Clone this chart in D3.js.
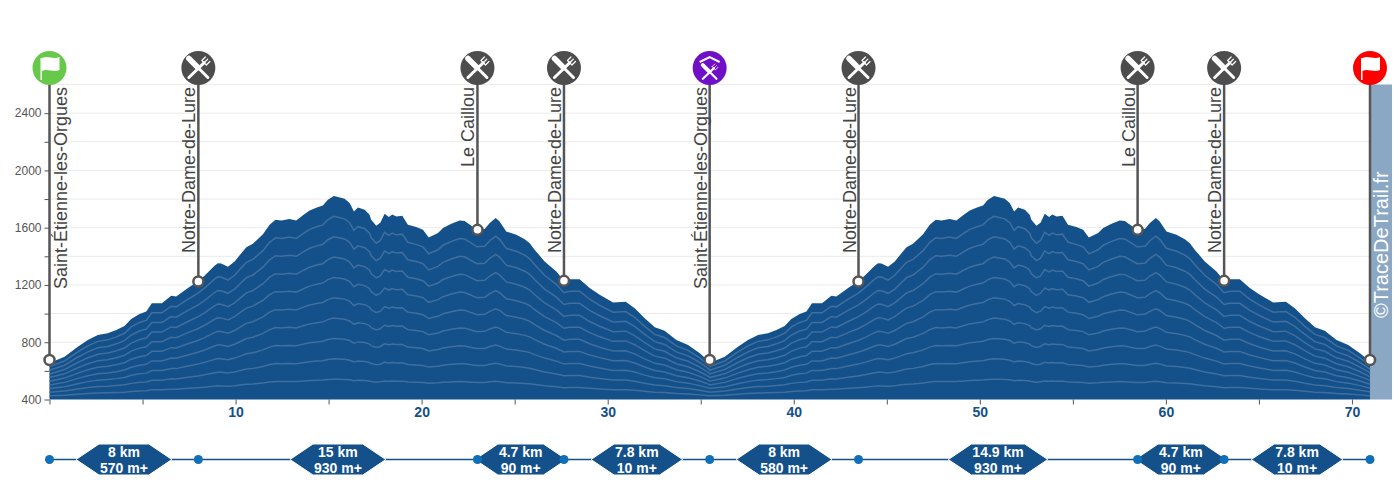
<!DOCTYPE html>
<html lang="fr">
<head>
    <meta charset="UTF-8">
    <title>Profil altimétrique</title>
    <script src="https://d3js.org/d3.v7.min.js"></script>
    <style>
        body { margin: 0; background: #fff; font-family: "Liberation Sans", Arial, sans-serif; }
        svg { display: block; }
        .grid line { stroke: #ebebeb; stroke-width: 1; }
        .y-axis text { font-size: 12px; fill: #555; }
        .y-axis line, .x-axis line { stroke: #555; }
        .x-axis text { font-size: 14px; font-weight: bold; fill: #14508a; }
        .y-axis path, .x-axis path { display: none; }
        .band { fill: none; stroke: #3f6f9f; stroke-width: 1.5; }
        .pole { stroke: #555; stroke-width: 2.5; }
        .stop-dot { fill: #fff; stroke: #555; stroke-width: 2.5; }
        .stop-name { font-size: 18px; fill: #444; }
        .seg-text { font-size: 14px; font-weight: bold; fill: #fff; text-anchor: middle; }
    </style>
</head>
<body>
    <svg id="chart" width="1400" height="500"></svg>

    <script>
        // distance (km) and elevation (m)
        const profileKm = [
            0, 0.81, 1.52, 2.06, 2.60, 3.13, 3.59, 4.03, 4.39, 4.84, 5.20, 5.50, 6.04, 6.54, 6.81, 7.44, 7.97, 8.33, 8.87, 9.05,
            9.23, 9.59, 9.95, 10.31, 10.58, 10.93, 11.47, 11.83, 12.15, 12.46, 12.90, 13.26, 13.71, 13.98, 14.37, 14.69, 14.96, 15.28, 15.50, 15.86,
            16.13, 16.36, 16.58, 16.94, 17.20, 17.29, 17.56, 17.78, 18.01, 18.24, 18.42, 18.64, 18.96, 19.26, 19.71, 20.07, 20.38, 20.88, 21.15, 21.60,
            22.04, 22.31, 22.67, 22.97, 23.39, 23.66, 23.98, 24.19, 24.55, 25.09, 25.54, 25.81, 26.08, 26.61, 27.24, 27.65, 27.96, 28.49, 29.03, 29.57,
            30.29, 30.97, 31.45, 31.99, 32.53, 33.06, 33.69, 34.32, 34.95, 35.45,
            35.48, 36.29, 37.00, 37.54, 38.08, 38.61, 39.07, 39.51, 39.87, 40.32, 40.68, 40.98, 41.52, 42.02, 42.29, 42.92, 43.45, 43.81, 44.35, 44.53,
            44.71, 45.07, 45.43, 45.79, 46.06, 46.41, 46.95, 47.31, 47.63, 47.94, 48.38, 48.74, 49.19, 49.46, 49.85, 50.17, 50.44, 50.76, 50.98, 51.34,
            51.61, 51.84, 52.06, 52.42, 52.68, 52.77, 53.04, 53.26, 53.49, 53.72, 53.90, 54.12, 54.44, 54.74, 55.19, 55.55, 55.86, 56.36, 56.63, 57.08,
            57.52, 57.79, 58.15, 58.45, 58.87, 59.14, 59.46, 59.67, 60.03, 60.57, 61.02, 61.29, 61.56, 62.09, 62.72, 63.13, 63.44, 63.97, 64.51, 65.05,
            65.77, 66.45, 66.93, 67.47, 68.01, 68.54, 69.17, 69.80, 70.43, 70.93, 70.97
        ];
        const profileEle = [
            655, 699, 769, 816, 851, 863, 886, 914, 963, 998, 1014, 1073, 1073, 1124, 1119, 1178, 1224, 1264, 1334, 1352,
            1350, 1327, 1364, 1422, 1464, 1487, 1555, 1620, 1655, 1650, 1660, 1650, 1695, 1720, 1741, 1755, 1795, 1821, 1814, 1802,
            1772, 1713, 1741, 1725, 1690, 1655, 1613, 1634, 1697, 1674, 1692, 1678, 1683, 1620, 1604, 1585, 1531, 1562, 1597, 1627,
            1650, 1646, 1613, 1585, 1590, 1632, 1667, 1643, 1573, 1550, 1520, 1492, 1445, 1364, 1294, 1229, 1240, 1240, 1178, 1131,
            1077, 1082, 1038, 968, 905, 881, 816, 781, 723, 665,
            655, 699, 769, 816, 851, 863, 886, 914, 963, 998, 1014, 1073, 1073, 1124, 1119, 1178, 1224, 1264, 1334, 1352,
            1350, 1327, 1364, 1422, 1464, 1487, 1555, 1620, 1655, 1650, 1660, 1650, 1695, 1720, 1741, 1755, 1795, 1821, 1814, 1802,
            1772, 1713, 1741, 1725, 1690, 1655, 1613, 1634, 1697, 1674, 1692, 1678, 1683, 1620, 1604, 1585, 1531, 1562, 1597, 1627,
            1650, 1646, 1613, 1585, 1590, 1632, 1667, 1643, 1573, 1550, 1520, 1492, 1445, 1364, 1294, 1229, 1240, 1240, 1178, 1131,
            1077, 1082, 1038, 968, 905, 881, 816, 781, 723, 670, 660
        ];
        const bandShares = [0.1, 0.2, 0.3, 0.4, 0.5, 0.6, 0.7, 0.8, 0.9];

        const stopNames = ['Saint-Étienne-les-Orgues', 'Notre-Dame-de-Lure', 'Le Caillou', 'Notre-Dame-de-Lure',
            'Saint-Étienne-les-Orgues', 'Notre-Dame-de-Lure', 'Le Caillou', 'Notre-Dame-de-Lure', ''];
        const stopKm = [0, 8.0, 23.0, 27.65, 35.48, 43.48, 58.48, 63.13, 70.97];
        const stopEle = [676, 1224, 1585, 1229, 676, 1224, 1585, 1229, 676];
        const stopKinds = ['start', 'food', 'food', 'food', 'base', 'food', 'food', 'food', 'finish'];

        const segDistance = ['8 km', '15 km', '4.7 km', '7.8 km', '8 km', '14.9 km', '4.7 km', '7.8 km'];
        const segGain = ['570 m+', '930 m+', '90 m+', '10 m+', '580 m+', '930 m+', '90 m+', '10 m+'];

        const eleTicks = [400, 600, 800, 1000, 1200, 1400, 1600, 1800, 2000, 2200, 2400, 2600];
        const eleLabels = [400, 800, 1200, 1600, 2000, 2400];
        const kmTicks = [0, 5, 10, 15, 20, 25, 30, 35, 40, 45, 50, 55, 60, 65, 70];
        const kmLabels = [10, 20, 30, 40, 50, 60, 70];

        const blue = '#14508a';
        const kindColor = { start: '#66c94a', food: '#4d4d4d', base: '#6f10c8', finish: '#ff0000' };

        const svg = d3.select('#chart');
        const x = d3.scaleLinear().domain([0, 70.97]).range([49.5, 1370]);
        const y = d3.scaleLinear().domain([400, 2600]).range([399.5, 84.5]);

        // grid
        svg.append('g').attr('class', 'grid')
            .selectAll('line').data(eleTicks.slice(1)).join('line')
            .attr('x1', x(0)).attr('x2', x(70.97))
            .attr('y1', d => y(d)).attr('y2', d => y(d));

        // credit band on the right
        svg.append('rect')
            .attr('x', x(70.97)).attr('y', y(2600))
            .attr('width', 22).attr('height', y(400) - y(2600))
            .attr('fill', '#8aa8c4');
        svg.append('text')
            .attr('transform', `translate(${x(70.97) + 18},318) rotate(-90)`)
            .attr('font-size', 20).attr('fill', '#fff')
            .text('©TraceDeTrail.fr');

        // profile
        const area = d3.area()
            .x((d, i) => x(profileKm[i]))
            .y0(y(400))
            .y1(d => y(d));
        svg.append('path').datum(profileEle).attr('d', area).attr('fill', blue);

        // lighter lines: each one is a share of the height above the base
        const bandLine = share => d3.line()
            .x((d, i) => x(profileKm[i]))
            .y(d => y(400 + (d - 400) * share));
        bandShares.forEach(share => {
            svg.append('path').datum(profileEle).attr('class', 'band').attr('d', bandLine(share));
        });

        // axes
        svg.append('g').attr('class', 'y-axis')
            .attr('transform', `translate(${x(0)},0)`)
            .call(d3.axisLeft(y).tickValues(eleTicks.slice(0, -1)).tickSize(5).tickPadding(3)
                .tickFormat(d => eleLabels.includes(d) ? d : ''));
        svg.append('g').attr('class', 'x-axis')
            .attr('transform', `translate(0,${y(400)})`)
            .call(d3.axisBottom(x).tickValues(kmTicks).tickSize(5).tickPadding(3)
                .tickFormat(d => kmLabels.includes(d) ? d : ''));

        // stops
        const iconY = 68;
        const stops = svg.append('g').selectAll('g')
            .data(stopNames.map((name, i) => ({ name, km: stopKm[i], ele: stopEle[i], kind: stopKinds[i] })))
            .join('g');

        stops.append('line').attr('class', 'pole')
            .attr('x1', d => x(d.km)).attr('x2', d => x(d.km))
            .attr('y1', iconY).attr('y2', d => y(d.ele));
        stops.append('circle').attr('class', 'stop-dot')
            .attr('cx', d => x(d.km)).attr('cy', d => y(d.ele)).attr('r', 5);
        stops.append('text').attr('class', 'stop-name')
            .attr('text-anchor', 'end')
            .attr('transform', (d, i) => `translate(${x(d.km) + (i === 0 ? 17 : -3)},87) rotate(-90)`)
            .text(d => d.name);

        const icons = stops.append('g')
            .attr('transform', d => `translate(${x(d.km)},${iconY})`);
        icons.append('circle').attr('r', 17).attr('fill', d => kindColor[d.kind]);

        // flag
        const flags = icons.filter(d => d.kind === 'start' || d.kind === 'finish');
        flags.append('path').attr('fill', '#fff')
            .attr('d', 'M-9,-10 L-7.5,-10 C-2,-13 4,-8 10,-11 L10,2 C4,5 -2,0 -7.5,3 L-7.5,12 L-9,12 Z');

        // crossed knife and fork
        function cutlery(sel, k, dy) {
            const g = sel.append('g').attr('transform', `translate(0,${dy}) scale(${k})`)
                .attr('stroke', '#fff').attr('fill', 'none');
            g.append('path').attr('stroke-width', 3).attr('stroke-linecap', 'round').attr('d', 'M-9.5,9.5 L5.75,-5.25');
            g.append('path').attr('stroke-width', 3).attr('stroke-linecap', 'round').attr('d', 'M9.5,9.5 L0,0');
            g.append('path').attr('stroke-width', 5.5).attr('stroke-linecap', 'round').attr('d', 'M-0.5,-0.5 L-9.5,-9.5');
            g.append('path').attr('stroke-width', 1.2).attr('stroke-linecap', 'round')
                .attr('d', 'M3.5,-7.5 L8,-3 M3.5,-7.5 L7,-11 M5.75,-5.25 L9.25,-8.75 M8,-3 L11.5,-6.5');
        }
        cutlery(icons.filter(d => d.kind === 'food'), 1, 0);
        const base = icons.filter(d => d.kind === 'base');
        cutlery(base, 0.72, 4);
        base.append('path').attr('fill', 'none').attr('stroke', '#fff').attr('stroke-width', 2)
            .attr('d', 'M-10,-6 L0,-11 L10,-6');

        // segments under the chart
        const segY = 459.5;
        svg.append('line')
            .attr('x1', x(0)).attr('x2', x(70.97))
            .attr('y1', segY).attr('y2', segY)
            .attr('stroke', blue).attr('stroke-width', 1.5);

        const segs = svg.append('g').selectAll('g')
            .data(segDistance.map((dist, i) => ({ dist, gain: segGain[i], cx: x((stopKm[i] + stopKm[i + 1]) / 2) })))
            .join('g')
            .attr('transform', d => `translate(${d.cx},${segY})`);
        const hex = segs.append('path').attr('fill', blue).attr('stroke', '#fff').attr('stroke-width', 1);
        segs.append('text').attr('class', 'seg-text').attr('y', -3).text(d => d.dist);
        segs.append('text').attr('class', 'seg-text').attr('y', 13).text(d => d.gain);

        // hexagon width follows the wider of the two text lines
        hex.attr('d', function () {
            let w = 0;
            d3.select(this.parentNode).selectAll('text').each(function () {
                w = Math.max(w, this.getComputedTextLength());
            });
            const h = w / 2 + 1, tip = h + 23;
            return `M${-tip},0 L${-h},-15.5 L${h},-15.5 L${tip},0 L${h},15.5 L${-h},15.5 Z`;
        });

        svg.append('g').selectAll('circle').data(stopKm).join('circle')
            .attr('cx', d => x(d)).attr('cy', segY).attr('r', 4.5)
            .attr('fill', '#0f6fb8');
    </script>
</body>
</html>
